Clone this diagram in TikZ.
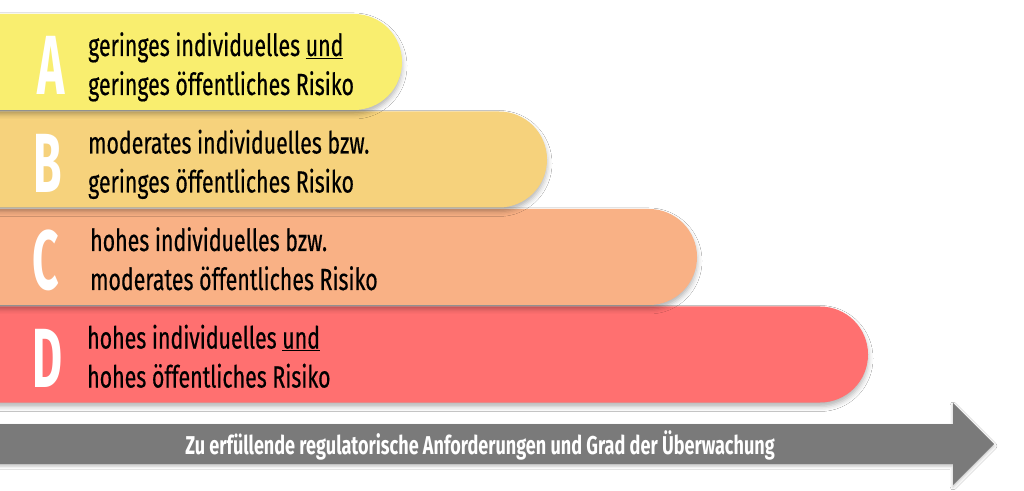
\documentclass[tikz,border=0pt]{standalone}
\usepackage{fontspec}
\setmainfont{Fira Sans}[FakeStretch=0.7, FakeBold=0.4]
\newfontfamily\letterfont{Fira Sans}[FakeStretch=0.55]
\newfontfamily\arrowfont{Fira Sans}[FakeStretch=0.7]
\usetikzlibrary{shadows.blur}
\definecolor{barA}{HTML}{F9EE6F}
\definecolor{barB}{HTML}{F6D27C}
\definecolor{barC}{HTML}{F9B185}
\definecolor{barD}{HTML}{FF7070}
\definecolor{arrowgray}{HTML}{7A7A7A}
\tikzset{
  barshadow/.style={blur shadow={shadow xshift=0pt, shadow yshift=-4pt, shadow blur radius=5pt, shadow opacity=30}},
  bartext/.style={anchor=base west, inner sep=0pt, font=\fontsize{30.5}{39}\selectfont, text=black},
  letter/.style={anchor=base, inner sep=0pt, font=\letterfont\bfseries\fontsize{84}{84}\selectfont, text=white},
  arrowtext/.style={inner sep=0pt, font=\arrowfont\bfseries\fontsize{25.8}{30}\selectfont, text=white}
}
\newcommand\riskbar[4]{% colour, right x, top y, bottom y
  \fill[#1, barshadow] (-20,#3) -- ({#2-48},#3) arc[start angle=90, end angle=-90, radius=48] -- (-20,#4) -- cycle;}
\begin{document}
\begin{tikzpicture}[x=1pt,y=1pt]
\useasboundingbox[fill=white] (0,0) rectangle (1024,490);
% bars, bottom first so the upper bar lies on top
\riskbar{barD}{868}{183.5}{87.5}
\riskbar{barC}{697}{281}{185}
\riskbar{barB}{547}{378.5}{282.5}
\riskbar{barA}{402}{476}{380}
% arrow
\fill[arrowgray, blur shadow={shadow xshift=0pt, shadow yshift=-2pt, shadow blur radius=3pt, shadow opacity=25}]
  (-20,26) -- (953,26) -- (953,5) -- (994,46) -- (953,87) -- (953,66) -- (-20,66) -- cycle;
\node[arrowtext] (arrowlabel) at (480,45) {Zu erfüllende regulatorische Anforderungen und Grad der Überwachung};
% letters
\node[letter] (lA) at (51,395) {A};
\node[letter] (lB) at (48,297.5) {B};
\node[letter] (lC) at (46,200) {C};
\node[letter] (lD) at (48,102.5) {D};
% texts
\node[bartext] (tA1) at (88,434) {geringes individuelles \underline{und}};
\node[bartext] (tA2) at (88,395) {geringes öffentliches Risiko};
\node[bartext] (tB1) at (88,336.5) {moderates individuelles bzw.};
\node[bartext] (tB2) at (88,297.5) {geringes öffentliches Risiko};
\node[bartext] (tC1) at (90,239) {hohes individuelles bzw.};
\node[bartext] (tC2) at (90,200) {moderates öffentliches Risiko};
\node[bartext] (tD1) at (87,141.5) {hohes individuelles \underline{und}};
\node[bartext] (tD2) at (87,102.5) {hohes öffentliches Risiko};
\end{tikzpicture}
\end{document}
